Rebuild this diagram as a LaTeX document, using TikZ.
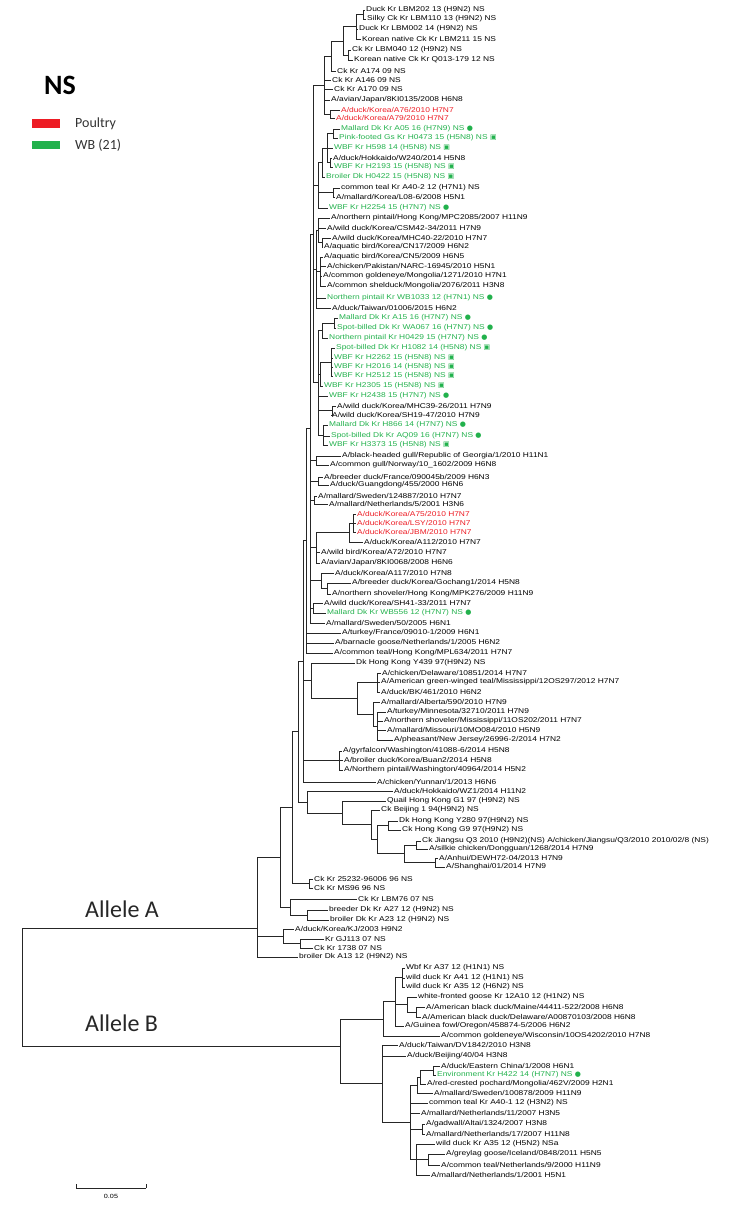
\documentclass[tikz,border=0pt]{standalone}
\usepackage{fontspec}
\usepackage{xcolor}
\usetikzlibrary{calc}
\newfontfamily\leaffont[FakeStretch=1.2]{Liberation Sans}
\newfontfamily\legendfont{Carlito}
\newfontfamily\iconfont{DejaVu Sans}
\definecolor{poultryred}{RGB}{237,28,36}
\definecolor{wbgreen}{RGB}{34,177,76}
\tikzset{
  branch/.style={line width=0.7pt, black!85},
  leaf/.style={anchor=west, inner sep=1pt, font=\leaffont\fontsize{7}{8}\selectfont},
  redleaf/.style={leaf, text=poultryred},
  wbleaf/.style={leaf, text=wbgreen},
  keybox/.style={rectangle, minimum width=28pt, minimum height=9pt, inner sep=0pt},
  keytext/.style={font=\legendfont\fontsize{14}{16}\selectfont, anchor=west, inner sep=0pt, text=black!80},
  allele/.style={font=\legendfont\fontsize{24}{26}\selectfont, anchor=base west, inner sep=0pt, text=black!85},
}
\newcommand{\dotmark}{{\iconfont ●}}
\newcommand{\boxmark}{{\iconfont ▣}}
% clade: name, x of its vertical, children (top to bottom)
\newcommand{\clade}[3]{%
  \foreach \kid [count=\i] in {#3}{\ifnum\i=1\relax\xdef\cfirst{\kid}\fi\xdef\clast{\kid}}%
  \path let \p1=($(\cfirst)!.5!(\clast)$) in coordinate (#1) at (#2,\y1);%
  \foreach \kid in {#3}{\draw[branch] (#1) |- (\kid);}%
}
% clade placed at a given height
\newcommand{\cladeat}[4]{%
  \coordinate (#1) at (#2,#3);%
  \foreach \kid in {#4}{\draw[branch] (#1) |- (\kid);}%
}

\begin{document}
\begin{tikzpicture}[x=1pt, y=-1pt]
\useasboundingbox (0,0) rectangle (752,1231);

% legend
\node[font=\legendfont\bfseries\fontsize{28}{30}\selectfont, anchor=base west, inner sep=0pt] (title) at (44,95) {NS};
\node[keybox, fill=poultryred] (keyred) at (46,123) {};
\node[keybox, fill=wbgreen, minimum height=8pt] (keygreen) at (46,145) {};
\node[keytext] (keyredtext) at (75,124) {Poultry};
\node[keytext] (keygreentext) at (75,145) {WB (21)};

% allele A leaves
\node[leaf] (a01) at (365,10) {Duck Kr LBM202 13 (H9N2) NS};
\node[leaf] (a02) at (366,19) {Silky Ck Kr LBM110 13 (H9N2) NS};
\node[leaf] (a03) at (358,29) {Duck Kr LBM002 14 (H9N2) NS};
\node[leaf] (a04) at (361,39) {Korean native Ck Kr LBM211 15 NS};
\node[leaf] (a05) at (351,50) {Ck Kr LBM040 12 (H9N2) NS};
\node[leaf] (a06) at (353,60) {Korean native Ck Kr Q013-179 12 NS};
\node[leaf] (a07) at (336,71) {Ck Kr A174 09 NS};
\node[leaf] (a08) at (331,80) {Ck Kr A146 09 NS};
\node[leaf] (a09) at (333,89) {Ck Kr A170 09 NS};
\node[leaf] (a10) at (330,100) {A/avian/Japan/8KI0135/2008 H6N8};
\node[redleaf] (a11) at (340,110) {A/duck/Korea/A76/2010 H7N7};
\node[redleaf] (a12) at (335,118) {A/duck/Korea/A79/2010 H7N7};
\node[wbleaf] (a13) at (340,129) {Mallard Dk Kr A05 16 (H7N9) NS \dotmark};
\node[wbleaf] (a14) at (338,138) {Pink-footed Gs Kr H0473 15 (H5N8) NS \boxmark};
\node[wbleaf] (a15) at (333,148) {WBF Kr H598 14 (H5N8) NS \boxmark};
\node[leaf] (a16) at (332,158) {A/duck/Hokkaido/W240/2014 H5N8};
\node[wbleaf] (a17) at (333,167) {WBF Kr H2193 15 (H5N8) NS \boxmark};
\node[wbleaf] (a18) at (325,177) {Broiler Dk H0422 15 (H5N8) NS \boxmark};
\node[leaf] (a19) at (340,188) {common teal Kr A40-2 12 (H7N1) NS};
\node[leaf] (a20) at (335,197) {A/mallard/Korea/L08-6/2008 H5N1};
\node[wbleaf] (a21) at (328,208) {WBF Kr H2254 15 (H7N7) NS \dotmark};
\node[leaf] (a22) at (330,218) {A/northern pintail/Hong Kong/MPC2085/2007 H11N9};
\node[leaf] (a23) at (326,228) {A/wild duck/Korea/CSM42-34/2011 H7N9};
\node[leaf] (a24) at (331,238) {A/wild duck/Korea/MHC40-22/2010 H7N7};
\node[leaf] (a25) at (323,247) {A/aquatic bird/Korea/CN17/2009 H6N2};
\node[leaf] (a26) at (323,257) {A/aquatic bird/Korea/CN5/2009 H6N5};
\node[leaf] (a27) at (326,266) {A/chicken/Pakistan/NARC-16945/2010 H5N1};
\node[leaf] (a28) at (322,276) {A/common goldeneye/Mongolia/1271/2010 H7N1};
\node[leaf] (a29) at (326,286) {A/common shelduck/Mongolia/2076/2011 H3N8};
\node[wbleaf] (a30) at (326,298) {Northern pintail Kr WB1033 12 (H7N1) NS \dotmark};
\node[leaf] (a31) at (331,308) {A/duck/Taiwan/01006/2015 H6N2};
\node[wbleaf] (a32) at (338,318) {Mallard Dk Kr A15 16 (H7N7) NS \dotmark};
\node[wbleaf] (a33) at (336,328) {Spot-billed Dk Kr WA067 16 (H7N7) NS \dotmark};
\node[wbleaf] (a34) at (328,338) {Northern pintail Kr H0429 15 (H7N7) NS \dotmark};
\node[wbleaf] (a35) at (335,348) {Spot-billed Dk Kr H1082 14 (H5N8) NS \boxmark};
\node[wbleaf] (a36) at (333,358) {WBF Kr H2262 15 (H5N8) NS \boxmark};
\node[wbleaf] (a37) at (333,367) {WBF Kr H2016 14 (H5N8) NS \boxmark};
\node[wbleaf] (a38) at (333,376) {WBF Kr H2512 15 (H5N8) NS \boxmark};
\node[wbleaf] (a39) at (323,386) {WBF Kr H2305 15 (H5N8) NS \boxmark};
\node[wbleaf] (a40) at (328,396) {WBF Kr H2438 15 (H7N7) NS \dotmark};
\node[leaf] (a41) at (336,406) {A/wild duck/Korea/MHC39-26/2011 H7N9};
\node[leaf] (a42) at (331,415) {A/wild duck/Korea/SH19-47/2010 H7N9};
\node[wbleaf] (a43) at (328,425) {Mallard Dk Kr H866 14 (H7N7) NS \dotmark};
\node[wbleaf] (a44) at (330,436) {Spot-billed Dk Kr AQ09 16 (H7N7) NS \dotmark};
\node[wbleaf] (a45) at (328,445) {WBF Kr H3373 15 (H5N8) NS \boxmark};
\node[leaf] (a46) at (341,456) {A/black-headed gull/Republic of Georgia/1/2010 H11N1};
\node[leaf] (a47) at (329,465) {A/common gull/Norway/10\_1602/2009 H6N8};
\node[leaf] (a48) at (323,477) {A/breeder duck/France/090045b/2009 H6N3};
\node[leaf] (a49) at (329,485) {A/duck/Guangdong/455/2000 H6N6};
\node[leaf] (a50) at (317,496) {A/mallard/Sweden/124887/2010 H7N7};
\node[leaf] (a51) at (328,504) {A/mallard/Netherlands/5/2001 H3N6};
\node[redleaf] (a52) at (356,514) {A/duck/Korea/A75/2010 H7N7};
\node[redleaf] (a53) at (356,523) {A/duck/Korea/LSY/2010 H7N7};
\node[redleaf] (a54) at (356,532) {A/duck/Korea/JBM/2010 H7N7};
\node[leaf] (a55) at (363,542) {A/duck/Korea/A112/2010 H7N7};
\node[leaf] (a56) at (320,552) {A/wild bird/Korea/A72/2010 H7N7};
\node[leaf] (a57) at (320,563) {A/avian/Japan/8KI0068/2008 H6N6};
\node[leaf] (a58) at (334,573) {A/duck/Korea/A117/2010 H7N8};
\node[leaf] (a59) at (351,583) {A/breeder duck/Korea/Gochang1/2014 H5N8};
\node[leaf] (a60) at (331,594) {A/northern shoveler/Hong Kong/MPK276/2009 H11N9};
\node[leaf] (a61) at (323,603) {A/wild duck/Korea/SH41-33/2011 H7N7};
\node[wbleaf] (a62) at (326,613) {Mallard Dk Kr WB556 12 (H7N7) NS \dotmark};
\node[leaf] (a63) at (325,623) {A/mallard/Sweden/50/2005 H6N1};
\node[leaf] (a64) at (341,633) {A/turkey/France/09010-1/2009 H6N1};
\node[leaf] (a65) at (334,643) {A/barnacle goose/Netherlands/1/2005 H6N2};
\node[leaf] (a66) at (333,653) {A/common teal/Hong Kong/MPL634/2011 H7N7};
\node[leaf] (a67) at (355,663) {Dk Hong Kong Y439 97(H9N2) NS};
\node[leaf] (a68) at (381,673) {A/chicken/Delaware/10851/2014 H7N7};
\node[leaf] (a69) at (380,682) {A/American green-winged teal/Mississippi/12OS297/2012 H7N7};
\node[leaf] (a70) at (380,692) {A/duck/BK/461/2010 H6N2};
\node[leaf] (a71) at (380,702) {A/mallard/Alberta/590/2010 H7N9};
\node[leaf] (a72) at (386,712) {A/turkey/Minnesota/32710/2011 H7N9};
\node[leaf] (a73) at (383,721) {A/northern shoveler/Mississippi/11OS202/2011 H7N7};
\node[leaf] (a74) at (386,730) {A/mallard/Missouri/10MO084/2010 H5N9};
\node[leaf] (a75) at (393,740) {A/pheasant/New Jersey/26996-2/2014 H7N2};
\node[leaf] (a76) at (342,751) {A/gyrfalcon/Washington/41088-6/2014 H5N8};
\node[leaf] (a77) at (343,760) {A/broiler duck/Korea/Buan2/2014 H5N8};
\node[leaf] (a78) at (343,770) {A/Northern pintail/Washington/40964/2014 H5N2};
\node[leaf] (a79) at (376,782) {A/chicken/Yunnan/1/2013 H6N6};
\node[leaf] (a80) at (393,791) {A/duck/Hokkaido/WZ1/2014 H11N2};
\node[leaf] (a81) at (386,801) {Quail Hong Kong G1 97 (H9N2) NS};
\node[leaf] (a82) at (380,810) {Ck Beijing 1 94(H9N2) NS};
\node[leaf] (a83) at (398,821) {Dk Hong Kong Y280 97(H9N2) NS};
\node[leaf] (a84) at (401,830) {Ck Hong Kong G9 97(H9N2) NS};
\node[leaf] (a85) at (421,841) {Ck Jiangsu Q3 2010 (H9N2)(NS) A/chicken/Jiangsu/Q3/2010 2010/02/8 (NS)};
\node[leaf] (a86) at (428,849) {A/silkie chicken/Dongguan/1268/2014 H7N9};
\node[leaf] (a87) at (438,858) {A/Anhui/DEWH72-04/2013 H7N9};
\node[leaf] (a88) at (445,867) {A/Shanghai/01/2014 H7N9};
\node[leaf] (a89) at (313,879) {Ck Kr 25232-96006 96 NS};
\node[leaf] (a90) at (313,888) {Ck Kr MS96 96 NS};
\node[leaf] (a91) at (357,899) {Ck Kr LBM76 07 NS};
\node[leaf] (a92) at (328,910) {breeder Dk Kr A27 12 (H9N2) NS};
\node[leaf] (a93) at (329,920) {broiler Dk Kr A23 12 (H9N2) NS};
\node[leaf] (a94) at (294,929) {A/duck/Korea/KJ/2003 H9N2};
\node[leaf] (a95) at (324,939) {Kr GJ113 07 NS};
\node[leaf] (a96) at (313,948) {Ck Kr 1738 07 NS};
\node[leaf] (a97) at (298,957) {broiler Dk A13 12 (H9N2) NS};

% allele B leaves
\node[leaf] (b01) at (405,968) {Wbf Kr A37 12 (H1N1) NS};
\node[leaf] (b02) at (405,978) {wild duck Kr A41 12 (H1N1) NS};
\node[leaf] (b03) at (405,987) {wild duck Kr A35 12 (H6N2) NS};
\node[leaf] (b04) at (417,997) {white-fronted goose Kr 12A10 12 (H1N2) NS};
\node[leaf] (b05) at (425,1007) {A/American black duck/Maine/44411-522/2008 H6N8};
\node[leaf] (b06) at (421,1017) {A/American black duck/Delaware/A00870103/2008 H6N8};
\node[leaf] (b07) at (404,1026) {A/Guinea fowl/Oregon/458874-5/2006 H6N2};
\node[leaf] (b08) at (440,1036) {A/common goldeneye/Wisconsin/10OS4202/2010 H7N8};
\node[leaf] (b09) at (398,1045) {A/duck/Taiwan/DV1842/2010 H3N8};
\node[leaf] (b10) at (406,1056) {A/duck/Beijing/40/04 H3N8};
\node[leaf] (b11) at (440,1066) {A/duck/Eastern China/1/2008 H6N1};
\node[wbleaf] (b12) at (436,1075) {Environment Kr H422 14 (H7N7) NS \dotmark};
\node[leaf] (b13) at (426,1084) {A/red-crested pochard/Mongolia/462V/2009 H2N1};
\node[leaf] (b14) at (433,1093) {A/mallard/Sweden/100878/2009 H11N9};
\node[leaf] (b15) at (428,1103) {common teal Kr A40-1 12 (H3N2) NS};
\node[leaf] (b16) at (420,1113) {A/mallard/Netherlands/11/2007 H3N5};
\node[leaf] (b17) at (425,1124) {A/gadwall/Altai/1324/2007 H3N8};
\node[leaf] (b18) at (425,1134) {A/mallard/Netherlands/17/2007 H11N8};
\node[leaf] (b19) at (435,1144) {wild duck Kr A35 12 (H5N2) NSa};
\node[leaf] (b20) at (445,1154) {A/greylag goose/Iceland/0848/2011 H5N5};
\node[leaf] (b21) at (440,1165) {A/common teal/Netherlands/9/2000 H11N9};
\node[leaf] (b22) at (430,1175) {A/mallard/Netherlands/1/2001 H5N1};

% allele A clades
\clade{k1}{363}{a01,a02}
\clade{k2}{356}{k1,a03,a04}
\clade{k3}{348}{a05,a06}
\clade{k4}{343}{k2,k3}
\clade{k5}{331}{k4,a07}
\clade{rp1}{330}{a11,a12}
\clade{k6}{324}{k5,a08,a09,a10,rp1}
\clade{g1}{333}{a13,a14}
\clade{g2}{330}{a16,a17}
\clade{g3}{327}{g1,a15,g2}
\clade{g4}{322}{g3,a18}
\clade{g5}{333}{a19,a20}
\clade{g6}{318}{g4,g5,a21}
\clade{h1}{322}{a24,a25}
\clade{h2}{318}{a22,a23,h1}
\clade{h3}{320}{a26,a27,a28,a29}
\clade{h4}{316}{h2,h3,a30,a31}
\clade{s1}{334}{a32,a33}
\clade{s2}{322}{s1,a34}
\clade{s3}{331}{a35,a36,a37,a38}
\clade{s4}{320}{s3,a39}
\clade{s5}{332}{a41,a42}
\clade{s6}{323}{a43,a44,a45}
\clade{s7}{318}{s2,s4,a40,s5,s6}
\clade{t1}{313}{k6,g6,h4,s7}
\clade{gl}{316}{a46,a47}
\clade{fg}{318}{a48,a49}
\clade{sn}{314}{a50,a51}
\clade{r1}{353}{a52,a53,a54}
\clade{r2}{349}{r1,a55}
\clade{r3}{316}{r2,a56,a57}
\clade{gc}{327}{a59,a60}
\clade{ak}{321}{a58,gc}
\clade{sw}{313}{a61,a62}
\clade{m1}{310}{t1,gl,fg,sn,r3,ak,sw,a63}
\clade{u1}{306}{m1,a64,a65,a66}
\clade{dt}{377}{a68,a69,a70}
\clade{mm}{377}{a72,a73,a74,a75}
\clade{al}{373}{a71,mm}
\clade{us}{357}{dt,al}
\clade{hk}{311}{a67,us}
\clade{wa}{339}{a76,a77,a78}
\clade{mt}{303}{u1,hk,wa,a79}
\clade{j1}{416}{a85,a86}
\clade{j2}{435}{a87,a88}
\clade{jj}{404}{j1,j2}
\clade{hp}{388}{a83,a84}
\clade{q2}{377}{hp,jj}
\clade{q1}{371}{a82,q2}
\clade{q0}{342}{a81,q1}
\clade{mh}{307}{a80,q0}
\clade{main}{298}{mt,mh}
\clade{ck}{309}{a89,a90}
\clade{big}{292}{main,ck}
\clade{bb}{307}{a92,a93}
\clade{lb}{290}{a91,bb}
\clade{aup}{280}{big,lb}
\clade{gj}{300}{a95,a96}
\clade{kj}{283}{a94,gj}
\cladeat{alleleA}{257}{928}{aup,kj,a97}

% allele B clades
\clade{w1}{402}{b01,b02,b03}
\clade{bd}{416}{b05,b06}
\clade{wf}{407}{b04,bd}
\clade{b1a}{395}{w1,wf,b07}
\clade{b1}{383}{b1a,b08}
\clade{ec}{433}{b11,b12}
\clade{c1a}{420}{ec,b13}
\clade{c1}{417}{c1a,b14}
\clade{gn}{422}{b17,b18}
\clade{d1}{428}{b20,b21}
\clade{d2}{416}{b19,d1,b22}
\clade{c0}{410}{c1,b15,b16,gn,d2}
\clade{b2}{382}{b09,b10,c0}
\cladeat{alleleB}{340}{1046}{b1,b2}

% root
\clade{root}{22}{alleleA,alleleB}
\node[allele] (labelA) at (85,917) {Allele A};
\node[allele] (labelB) at (85,1031) {Allele B};

% scale bar
\coordinate (barL) at (76,1188);
\coordinate (barR) at (146,1188);
\draw[branch] (barL) -- (barR);
\draw[branch] (barL) -- ++(0,-4);
\draw[branch] (barR) -- ++(0,-4);
\node[font=\leaffont\fontsize{6}{7}\selectfont, inner sep=1pt] (barlabel) at (111,1196) {0.05};
\end{tikzpicture}
\end{document}
